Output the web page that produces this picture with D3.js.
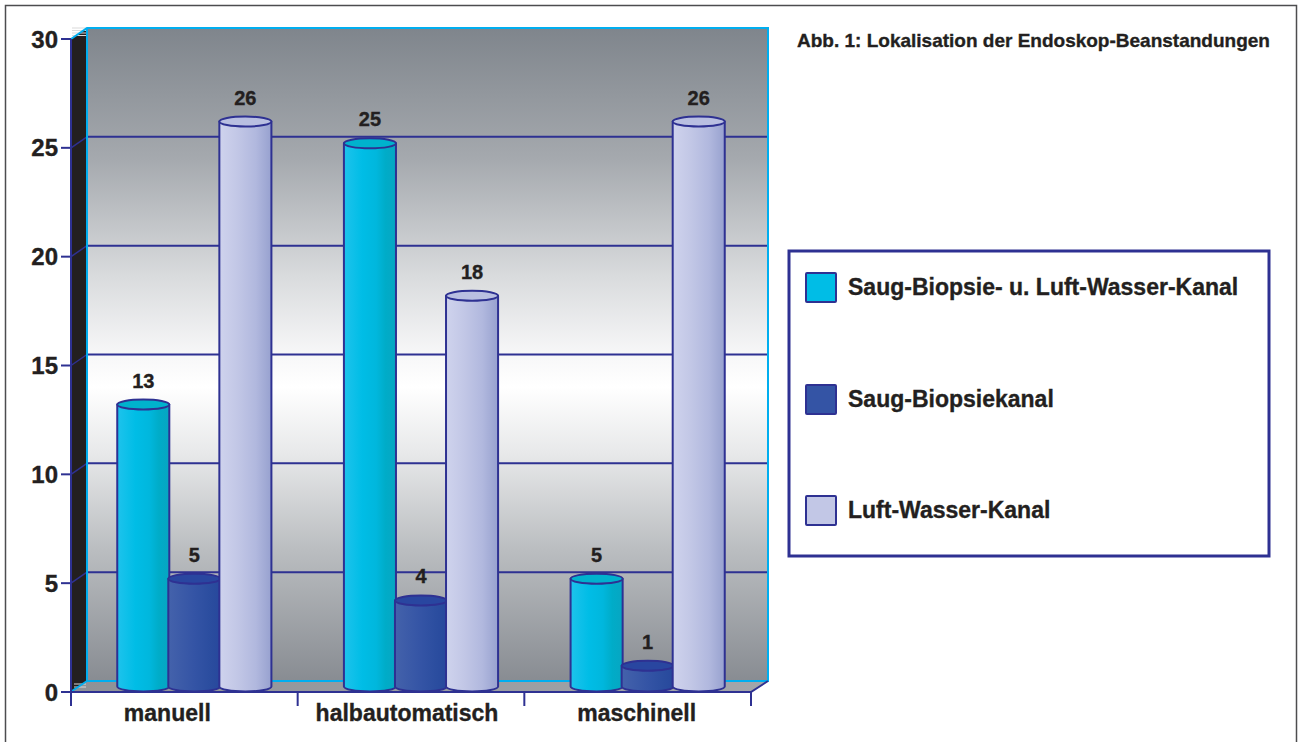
<!DOCTYPE html>
<html>
<head>
<meta charset="utf-8">
<script src="https://cdn.jsdelivr.net/npm/d3@7"></script>
<style>
  html, body { margin: 0; padding: 0; background: #fff; }
  svg { display: block; }
  text { font-family: "Liberation Sans", Arial, sans-serif; font-weight: bold; fill: #231f20; stroke: #231f20; stroke-width: 0.35px; }
</style>
</head>
<body>
<svg id="chart" width="1299" height="742"></svg>
<script>
// Categories (reprocessing method) and the three complaint locations
const categories = ["manuell", "halbautomatisch", "maschinell"];
const seriesNames = ["Saug-Biopsie- u. Luft-Wasser-Kanal", "Saug-Biopsiekanal", "Luft-Wasser-Kanal"];
const saugBiopsieLuftWasser = [13, 25, 5];
const saugBiopsie = [5, 4, 1];
const luftWasser = [26, 18, 26];
const yTickValues = [0, 5, 10, 15, 20, 25, 30];
const titleText = "Abb. 1: Lokalisation der Endoskop-Beanstandungen";

const seriesValues = [saugBiopsieLuftWasser, saugBiopsie, luftWasser];

const svg = d3.select("#chart");
const navy = "#2e3192";
const cyanLine = "#00aeef";

// plot frame (front plane) and depth offset of the 3D box
const x0L = 71, x0R = 751, yBottom = 692, yTop = 39;
const depthX = 17, depthY = -11;

const y = d3.scaleLinear().domain([0, 30]).range([yBottom, yTop]);
const x = d3.scaleBand().domain(categories).range([x0L, x0R]).paddingInner(0).paddingOuter(0);
const xs = d3.scaleBand().domain(d3.range(seriesNames.length)).range([0, x.bandwidth()]).paddingInner(0).paddingOuter(0.72);

const defs = svg.append("defs");

// outer frame
svg.append("rect").attr("x", 5.5).attr("y", 5.5).attr("width", 1291).attr("height", 760)
  .attr("fill", "none").attr("stroke", "#4d4d4f").attr("stroke-width", 1.5);

// back wall gradient
const wallGrad = defs.append("linearGradient").attr("id", "wall").attr("x1", 0).attr("y1", 0).attr("x2", 0).attr("y2", 1);
[[0, "#7f858c"], [0.2, "#a5a9ae"], [0.38, "#d9dbdd"], [0.5, "#f7f7f8"], [0.55, "#ffffff"], [0.65, "#e8e9ea"], [0.8, "#babdc0"], [1, "#888c92"]]
  .forEach(([o, c]) => wallGrad.append("stop").attr("offset", o).attr("stop-color", c));

const wx0 = x0L + depthX - 1, wx1 = x0R + depthX, wy0 = yTop + depthY, wy1 = yBottom + depthY;

svg.append("rect").attr("x", wx0).attr("y", wy0).attr("width", wx1 - wx0).attr("height", wy1 - wy0)
  .attr("fill", "url(#wall)");

// floor
const floorGrad = defs.append("linearGradient").attr("id", "floor").attr("x1", 0).attr("y1", 0).attr("x2", 1).attr("y2", 0);
[[0, "#8e9297"], [1, "#a3a6aa"]].forEach(([o, c]) => floorGrad.append("stop").attr("offset", o).attr("stop-color", c));
svg.append("path")
  .attr("d", `M${x0L},${yBottom} L${wx0},${wy1} L${wx1},${wy1} L${x0R},${yBottom} Z`)
  .attr("fill", "url(#floor)");

// left side wall
svg.append("path")
  .attr("d", `M${x0L},${yTop} L${wx0},${wy0} L${wx0},${wy1} L${x0L},${yBottom} Z`)
  .attr("fill", "#231f20");

// small hatch marks at the top and bottom of the side wall
[0, 2.5, 5, 7.5].forEach(o => {
  svg.append("line").attr("x1", x0L + 1).attr("x2", wx0 - 1).attr("y1", wy0 + o).attr("y2", wy0 + o)
    .attr("stroke", "#d9d9d9").attr("stroke-width", 1);
});
[0, 3].forEach(o => {
  svg.append("line").attr("x1", x0L + 3).attr("x2", wx0 - 1).attr("y1", wy1 + 3 + o).attr("y2", wy1 + 3 + o)
    .attr("stroke", "#d9d9d9").attr("stroke-width", 1);
});

// grid lines on back wall and side wall
const grid = yTickValues.filter(v => v > 0 && v < 30);
svg.append("g").selectAll("line").data(grid).join("line")
  .attr("x1", wx0).attr("x2", wx1)
  .attr("y1", d => y(d) + depthY).attr("y2", d => y(d) + depthY)
  .attr("stroke", navy).attr("stroke-width", 2);
svg.append("g").selectAll("line").data(grid).join("line")
  .attr("x1", x0L).attr("x2", wx0)
  .attr("y1", d => y(d)).attr("y2", d => y(d) + depthY)
  .attr("stroke", navy).attr("stroke-width", 1.5);

// back wall outline
svg.append("path")
  .attr("d", `M${x0L},${yTop} L${wx0},${wy0} L${wx1},${wy0} L${wx1},${wy1} L${wx0},${wy1} L${wx0},${wy0}`)
  .attr("fill", "none").attr("stroke", cyanLine).attr("stroke-width", 2);
svg.append("line").attr("x1", x0L + 1).attr("x2", wx0).attr("y1", yBottom - 1).attr("y2", wy1)
  .attr("stroke", cyanLine).attr("stroke-width", 2);

// floor front and right edges
svg.append("path")
  .attr("d", `M${x0L},${yBottom} L${x0R},${yBottom} L${wx1},${wy1}`)
  .attr("fill", "none").attr("stroke", navy).attr("stroke-width", 2);

// bar shading
const barShades = [
  { stops: [[0, "#1ec3ec"], [0.35, "#00bde6"], [0.62, "#00b7dd"], [0.8, "#00acc8"], [1, "#07a6c2"]], top: "#00b2cd" },
  { stops: [[0, "#4462ab"], [0.5, "#3454a5"], [0.8, "#2b4d9f"], [1, "#27489c"]], top: "#2946a0" },
  { stops: [[0, "#cfd3ed"], [0.35, "#c2c7e6"], [0.7, "#b1b8de"], [1, "#97a1cf"]], top: "#b9bfe1" }
];
barShades.forEach((s, i) => {
  const g = defs.append("linearGradient").attr("id", "bar" + i).attr("x1", 0).attr("x2", 1).attr("y1", 0).attr("y2", 0);
  s.stops.forEach(([o, c]) => g.append("stop").attr("offset", o).attr("stop-color", c));
});

// bars as cylinders at half depth
const bx = depthX / 2 + 1, by = depthY / 2 + 1;
const rows = [];
categories.forEach((c, ci) => {
  seriesValues.forEach((vals, si) => rows.push({ cat: c, s: si, v: vals[ci] }));
});

const bars = svg.append("g").selectAll("g").data(rows).join("g");
const barW = xs.bandwidth() + 1;
const ry = 5;
bars.each(function (d) {
  const g = d3.select(this);
  const left = x(d.cat) + xs(d.s) + bx;
  const right = left + barW;
  const rx = barW / 2;
  const top = y(d.v) + by;
  const bot = y(0) + by - 1;
  g.append("path")
    .attr("d", `M${left},${top} L${left},${bot} A${rx},${ry} 0 0 0 ${right},${bot} L${right},${top} Z`)
    .attr("fill", `url(#bar${d.s})`).attr("stroke", navy).attr("stroke-width", 2).attr("stroke-linejoin", "round");
  g.append("ellipse").attr("cx", left + rx).attr("cy", top).attr("rx", rx).attr("ry", ry)
    .attr("fill", barShades[d.s].top).attr("stroke", navy).attr("stroke-width", 2);
  g.append("text").attr("x", left + rx).attr("y", top - 17).attr("text-anchor", "middle")
    .attr("font-size", 20).text(d.v);
});

// y axis
svg.append("line").attr("x1", x0L).attr("x2", x0L).attr("y1", yTop).attr("y2", yBottom)
  .attr("stroke", navy).attr("stroke-width", 2);
const yt = svg.append("g").selectAll("g").data(yTickValues).join("g");
yt.append("line").attr("x1", x0L - 10).attr("x2", x0L).attr("y1", d => y(d)).attr("y2", d => y(d))
  .attr("stroke", navy).attr("stroke-width", 2);
yt.append("text").attr("x", 58).attr("y", d => y(d)).attr("dy", "0.36em").attr("text-anchor", "end")
  .attr("font-size", 24).text(d => d);

// x axis ticks and labels (first label sits a little left of its band centre)
const labelShift = [-17, -4, -1];
const xTickPos = categories.map(c => x(c)).concat([x0R]);
svg.append("g").selectAll("line").data(xTickPos).join("line")
  .attr("x1", d => d).attr("x2", d => d).attr("y1", yBottom).attr("y2", yBottom + 14)
  .attr("stroke", navy).attr("stroke-width", 2);
svg.append("g").selectAll("text").data(categories).join("text")
  .attr("x", (d, i) => x(d) + x.bandwidth() / 2 + labelShift[i]).attr("y", 721).attr("text-anchor", "middle")
  .attr("font-size", 23).text(d => d);

// title
svg.append("text").attr("x", 797).attr("y", 47).attr("font-size", 19).text(titleText);

// legend
svg.append("rect").attr("x", 789).attr("y", 251).attr("width", 480).attr("height", 305)
  .attr("fill", "#fff").attr("stroke", navy).attr("stroke-width", 3);
const legY = [287, 399, 510];
const leg = svg.append("g").selectAll("g").data(seriesNames).join("g");
leg.append("rect").attr("x", 806).attr("y", (d, i) => legY[i] - 14).attr("width", 30).attr("height", 29)
  .attr("fill", (d, i) => barShades[i].stops[1][1]).attr("stroke", navy).attr("stroke-width", 2).attr("rx", 1);
leg.append("text").attr("x", 848).attr("y", (d, i) => legY[i]).attr("dy", "0.36em")
  .attr("font-size", 23).text(d => d);
</script>
</body>
</html>
